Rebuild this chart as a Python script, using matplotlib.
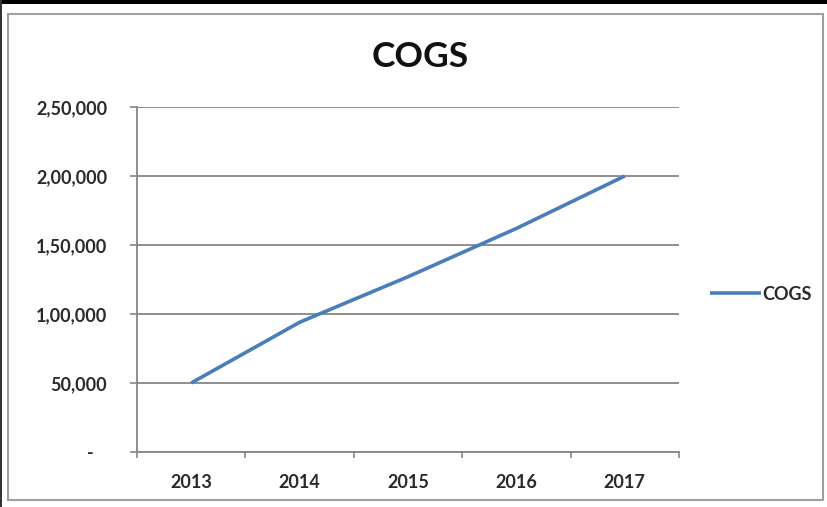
"""COGS by year: single line chart in the style of a spreadsheet chart."""

import matplotlib

matplotlib.use("Agg")
import matplotlib.pyplot as plt
from matplotlib.patches import Rectangle

years = ["2013", "2014", "2015", "2016", "2017"]
cogs = [50000, 94000, 127000, 162000, 200000]
y_ticks = [0, 50000, 100000, 150000, 200000, 250000]
y_labels = ["-   ", "50,000", "1,00,000", "1,50,000", "2,00,000", "2,50,000"]

LINE_BLUE = "#4a7ebb"
AXIS_GRAY = "#868686"
TEXT_DARK = "#2a2a2a"
FONT = ["Lato", "DejaVu Sans"]
LABEL_SIZE = 13

W, H = 828, 507
fig = plt.figure(figsize=(W / 100, H / 100), dpi=100)
fig.patch.set_facecolor("white")

# outer chart frame and the dark strip along the top edge
fig.add_artist(Rectangle((8 / W, 1 - 500 / H), 815 / W, 486 / H,
                         transform=fig.transFigure, fill=False,
                         edgecolor="#a0a0a0", linewidth=1.5))
fig.add_artist(Rectangle((0, 1 - 4 / H), 1, 4 / H, transform=fig.transFigure,
                         facecolor="black", edgecolor="none"))
fig.add_artist(Rectangle((0, 0), 2 / W, 1, transform=fig.transFigure,
                         facecolor="#333333", edgecolor="none"))

ax = fig.add_axes([137 / W, 1 - 452 / H, 542 / W, 345 / H])

xs = [i + 0.5 for i in range(len(years))]
ax.plot(xs, cogs, color=LINE_BLUE, linewidth=2.6, solid_capstyle="butt",
        label="COGS", zorder=3)

ax.set_xlim(0, len(years))
ax.set_ylim(0, 250000)

# category boundaries carry the tick marks, labels sit at the centres
ax.set_xticks(range(len(years) + 1))
ax.set_xticklabels([])
ax.set_xticks(xs, minor=True)
ax.set_xticklabels(years, minor=True, fontsize=LABEL_SIZE, family=FONT,
                   fontweight="bold", color=TEXT_DARK)
ax.tick_params(axis="x", which="major", length=4.5, width=1.2,
               color=AXIS_GRAY, direction="out")
ax.tick_params(axis="x", which="minor", length=0, pad=15.5)

ax.set_yticks(y_ticks)
ax.set_yticklabels(y_labels, fontsize=LABEL_SIZE, family=FONT,
                   fontweight="bold", color=TEXT_DARK)
ax.tick_params(axis="y", length=5, width=1.2, color=AXIS_GRAY,
               direction="out", pad=16.5)

ax.grid(axis="y", color=AXIS_GRAY, linewidth=1.3)
ax.set_axisbelow(True)
for side in ("top", "right"):
    ax.spines[side].set_visible(False)
for side in ("left", "bottom"):
    ax.spines[side].set_color(AXIS_GRAY)
    ax.spines[side].set_linewidth(1.3)

fig.text(420 / W, 1 - 57 / H, "COGS", ha="center", va="center",
         fontsize=25.5, fontweight="bold", family=FONT, color="#111111")

fig.legend(loc="center left", bbox_to_anchor=(710 / W, 1 - 294 / H),
           frameon=False, borderaxespad=0, borderpad=0,
           handlelength=2.8, handletextpad=0.1,
           prop={"family": FONT, "size": LABEL_SIZE, "weight": "bold"})
for txt in fig.legends[0].get_texts():
    txt.set_color(TEXT_DARK)

fig.savefig("out.png", dpi=100, facecolor="white")
